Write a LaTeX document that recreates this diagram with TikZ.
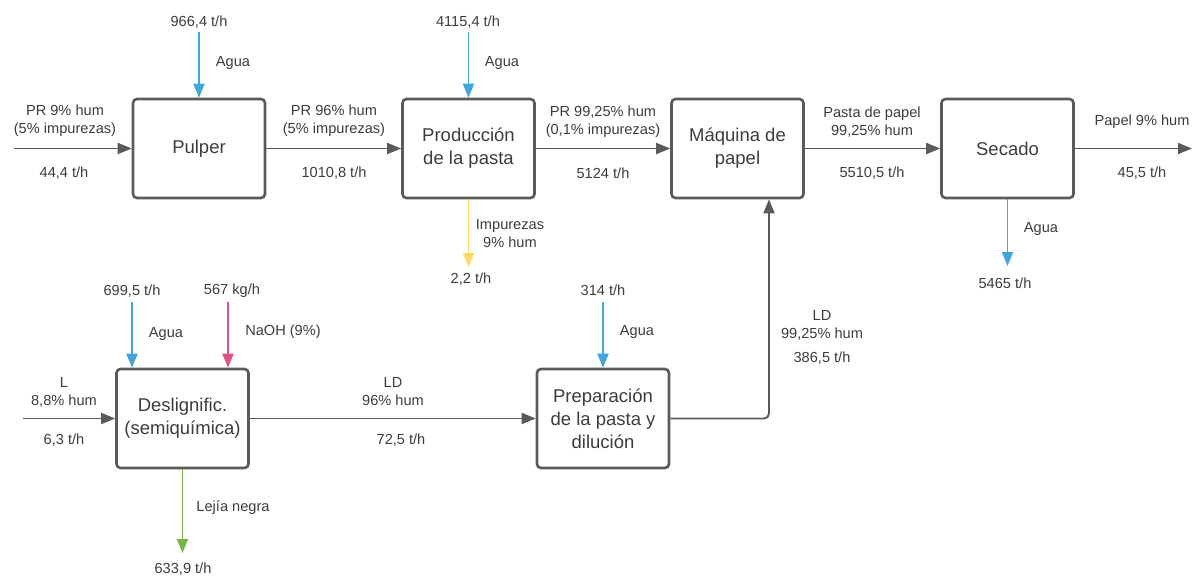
\documentclass[tikz,border=0pt]{standalone}
\usepackage{fontspec}
\setmainfont{Liberation Sans}
\usetikzlibrary{arrows.meta}

\definecolor{linegray}{HTML}{5A5A5A}
\definecolor{txtgray}{HTML}{3C3C3C}
\definecolor{aguablue}{HTML}{3DA6DE}
\definecolor{naohpink}{HTML}{E0557F}
\definecolor{impyellow}{HTML}{FFD964}
\definecolor{lejiagreen}{HTML}{79B546}

\begin{document}
\begin{tikzpicture}[x=1pt,y=-1pt,>={Triangle[length=14pt,width=11pt]},
  proc/.style={draw=linegray,line width=2.6pt,rounded corners=4pt,
    minimum width=132pt,minimum height=99pt,inner sep=0pt,align=center,
    text=txtgray,font=\fontsize{18.5}{23}\selectfont},
  lbl/.style={inner sep=0pt,align=center,text=txtgray,
    font=\fontsize{14.6}{18}\selectfont},
  flow/.style={->,draw=linegray,line width=1.9pt},
  agua/.style={->,draw=aguablue,line width=1.9pt}]
  \useasboundingbox (0,0) rectangle (1200,576);
  % ---------- process boxes
  \node[proc] (pulper) at (199,148.5) {Pulper};
  \node[proc] (prod)   at (468.5,148.5) {Producción\\de la pasta};
  \node[proc] (maq)    at (737.5,148.5) {Máquina de\\papel};
  \node[proc] (secado) at (1007.5,148.5) {Secado};
  \node[proc] (deslig) at (182.5,418.5) {Deslignific.\\(semiquímica)};
  \node[proc] (prep)   at (603,418.5) {Preparación\\de la pasta y\\dilución};
  % ---------- free ends
  \coordinate (inPR)  at (14,148.5);
  \coordinate (outP)  at (1192,148.5);
  \coordinate (inL)   at (23,418.5);
  \coordinate (wPul)  at (199,32);
  \coordinate (wProd) at (468.5,32);
  \coordinate (wDes)  at (132,302);
  \coordinate (nDes)  at (228,302);
  \coordinate (wPrep) at (603,302);
  \coordinate (impO)  at (468.5,267);
  \coordinate (wSec)  at (1007.5,266);
  \coordinate (lejO)  at (182.5,553);
  \coordinate (ldC)   at (769,418.5);
  % ---------- main line
  \draw[flow] (inPR) -- (pulper);
  \draw[flow] (pulper) -- (prod);
  \draw[flow] (prod) -- (maq);
  \draw[flow] (maq) -- (secado);
  \draw[flow] (secado) -- (outP);
  \draw[flow] (inL) -- (deslig);
  \draw[flow] (deslig) -- (prep);
  \draw[flow,rounded corners=5pt] (prep.east) -- (ldC) -- (ldC |- maq.south);
  % ---------- side streams
  \draw[agua] (wPul) -- (pulper.north);
  \draw[agua] (wProd) -- (prod.north);
  \draw[agua] (wDes) -- (wDes |- deslig.north);
  \draw[->,draw=naohpink,line width=1.9pt] (nDes) -- (nDes |- deslig.north);
  \draw[agua] (wPrep) -- (prep.north);
  \draw[->,draw=impyellow,line width=1.9pt] (prod.south) -- (impO);
  \draw[agua] (secado.south) -- (wSec);
  \draw[->,draw=lejiagreen,line width=1.9pt] (deslig.south) -- (lejO);
  % ---------- labels, top row
  \node[lbl] (l1a) at (65,121) {PR 9\% hum\\(5\% impurezas)};
  \node[lbl] (l1b) at (64,173) {44,4 t/h};
  \node[lbl] (l2a) at (334,121) {PR 96\% hum\\(5\% impurezas)};
  \node[lbl] (l2b) at (334,173) {1010,8 t/h};
  \node[lbl] (l3a) at (603,122) {PR 99,25\% hum\\(0,1\% impurezas)};
  \node[lbl] (l3b) at (603,173) {5124 t/h};
  \node[lbl] (l4a) at (872,122) {Pasta de papel\\99,25\% hum};
  \node[lbl] (l4b) at (872,173) {5510,5 t/h};
  \node[lbl] (l5a) at (1142,122) {Papel 9\% hum};
  \node[lbl] (l5b) at (1142,173) {45,5 t/h};
  \node[lbl] (w1a) at (199,22) {966,4 t/h};
  \node[lbl] (w1b) at (233,63) {Agua};
  \node[lbl] (w2a) at (468,22) {4115,4 t/h};
  \node[lbl] (w2b) at (502,63) {Agua};
  \node[lbl] (i1a) at (510,234) {Impurezas\\9\% hum};
  \node[lbl] (i1b) at (471,279) {2,2 t/h};
  \node[lbl] (s1a) at (1041,229) {Agua};
  \node[lbl] (s1b) at (1005,283) {5465 t/h};
  % ---------- labels, bottom row
  \node[lbl] (d1a) at (132,291) {699,5 t/h};
  \node[lbl] (d1b) at (166,334) {Agua};
  \node[lbl] (d2a) at (232,291) {567 kg/h};
  \node[lbl] (d2b) at (283,332) {NaOH (9\%)};
  \node[lbl] (d3a) at (64,392) {L\\8,8\% hum};
  \node[lbl] (d3b) at (64,440) {6,3 t/h};
  \node[lbl] (d4a) at (393,392) {LD\\96\% hum};
  \node[lbl] (d4b) at (401,440) {72,5 t/h};
  \node[lbl] (d5a) at (233,508) {Lejía negra};
  \node[lbl] (d5b) at (183,569) {633,9 t/h};
  \node[lbl] (p1a) at (603,290) {314 t/h};
  \node[lbl] (p1b) at (637,332) {Agua};
  \node[lbl] (p2a) at (822,325) {LD\\99,25\% hum};
  \node[lbl] (p2b) at (822,358) {386,5 t/h};
\end{tikzpicture}
\end{document}
